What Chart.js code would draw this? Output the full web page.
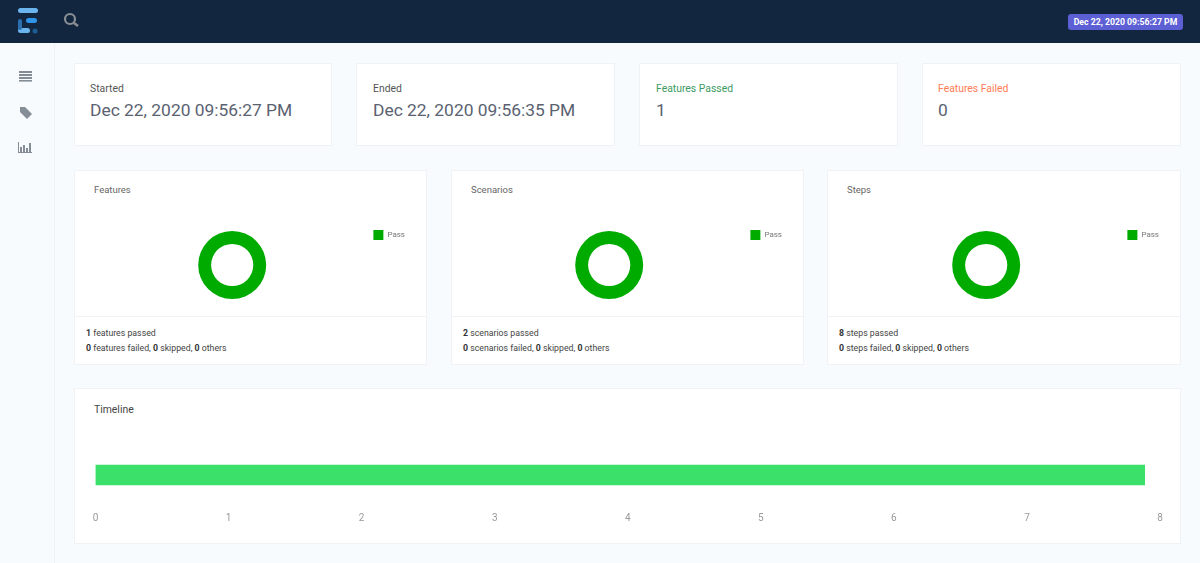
<!DOCTYPE html>
<html><head><meta charset="utf-8">
<script src="https://cdn.jsdelivr.net/npm/chart.js@4/dist/chart.umd.min.js"></script>
<style>
html,body{margin:0;padding:0;width:1200px;height:563px;overflow:hidden;background:#f8fbfd;font-family:Roboto,sans-serif;color:#4b5563}
.abs{position:absolute;box-sizing:border-box}
.card{position:absolute;box-sizing:border-box;background:#fff;border:1px solid #eff3f6}
.t{position:absolute;white-space:nowrap;line-height:1}
canvas{position:absolute}
b{font-weight:700;color:#333}
</style></head><body>
<div class="abs" style="left:0;top:0;width:1200px;height:43px;background:#12263f"></div>
<div class="abs" style="left:54px;top:43px;width:1px;height:520px;background:#eff3f6"></div>
<svg class="abs" style="left:0;top:0" width="1200" height="170" viewBox="0 0 1200 170">
 <rect x="18" y="8" width="20" height="5" rx="2.5" fill="#6cb4ee"/>
 <rect x="26" y="18" width="11" height="5" rx="2.5" fill="#2f93ea"/>
 <rect x="18" y="28" width="12" height="5" rx="2.5" fill="#6cb4ee"/>
 <rect x="18" y="19" width="4" height="11" rx="2" fill="#2b6fae"/>
 <circle cx="35" cy="31" r="2.5" fill="#1f5c94"/>
 <circle cx="70" cy="19" r="5" fill="none" stroke="#8a8f94" stroke-width="2.2"/>
 <line x1="74" y1="23" x2="78" y2="26" stroke="#8a8f94" stroke-width="2.5"/>
 <g fill="#858d96">
  <rect x="19" y="71" width="13" height="2"/><rect x="19" y="74" width="13" height="2"/><rect x="19" y="77" width="13" height="2"/><rect x="19" y="80" width="13" height="1.6"/>
  <path d="M20 107h5l7 7-5 5-7-7z"/>
  <rect x="18" y="142" width="1" height="11"/><rect x="18" y="152" width="14" height="1"/>
  <rect x="20" y="147" width="2" height="5"/><rect x="23" y="145" width="2" height="7"/><rect x="26" y="148" width="2" height="4"/><rect x="29" y="143" width="2" height="9"/>
 </g>
</svg>
<div class="abs" style="left:1068px;top:14px;width:115px;height:16px;background:#5d5fd4;border-radius:3px;color:#fff;font-size:8.7px;font-weight:700;line-height:16px;text-align:center;white-space:nowrap">Dec 22, 2020 09:56:27 PM</div>

<div class="card" style="left:74px;top:63px;width:258px;height:83px"></div>
<div class="t" style="left:90px;top:84px;font-size:10.4px;color:#555">Started</div>
<div class="t" style="left:90px;top:102px;font-size:17.4px;color:#5a6270">Dec 22, 2020 09:56:27 PM</div>
<div class="card" style="left:356px;top:63px;width:259px;height:83px"></div>
<div class="t" style="left:373px;top:84px;font-size:10.4px;color:#555">Ended</div>
<div class="t" style="left:373px;top:102px;font-size:17.4px;color:#5a6270">Dec 22, 2020 09:56:35 PM</div>
<div class="card" style="left:639px;top:63px;width:259px;height:83px"></div>
<div class="t" style="left:656px;top:84px;font-size:10.4px;color:#3d9a5f">Features Passed</div>
<div class="t" style="left:656px;top:102px;font-size:17.4px;color:#5a6270">1</div>
<div class="card" style="left:922px;top:63px;width:259px;height:83px"></div>
<div class="t" style="left:938px;top:84px;font-size:10.4px;color:#ff7b54">Features Failed</div>
<div class="t" style="left:938px;top:102px;font-size:17.4px;color:#5a6270">0</div>

<div id="panels"></div>

<div class="card" style="left:74px;top:388px;width:1107px;height:156px"></div>
<div class="t" style="left:94px;top:405px;font-size:10.4px;color:#444">Timeline</div>
<canvas id="timeline" style="left:74px;top:452px;width:1107px;height:78px"></canvas>

<script>
const passColor = '#00ab00';
const timelineColor = '#3ae06a';
const panelTitles = ['Features','Scenarios','Steps'];
const panelLegend = ['Pass'];
const panelPassed = [1,2,8];
const panelFailed = [0,0,0];
const panelSkipped = [0,0,0];
const panelOthers = [0,0,0];
const panelLeft = [74,451,827];
const timelineLabels = ['Feature'];
const timelineValues = [7.885];
const timelineMax = 8;

Chart.defaults.font.family = 'Roboto, sans-serif';
Chart.defaults.animation = false;
const host = document.getElementById('panels');
panelTitles.forEach((title,i)=>{
  const L = panelLeft[i], lc = title.toLowerCase();
  host.insertAdjacentHTML('beforeend',
   `<div class="card" style="left:${L}px;top:170px;width:${i==2?354:353}px;height:195px"></div>
    <div class="abs" style="left:${L+1}px;top:316px;width:${i==2?352:351}px;height:1px;background:#f0f2f5"></div>
    <div class="t" style="left:${L+20}px;top:185px;font-size:9.5px;color:#666">${title}</div>
    <div class="t" style="left:${L+12}px;top:329px;font-size:8.75px;color:#444"><b>${panelPassed[i]}</b> ${lc} passed</div>
    <div class="t" style="left:${L+12}px;top:344px;font-size:8.75px;color:#444"><b>${panelFailed[i]}</b> ${lc} failed, <b>${panelSkipped[i]}</b> skipped, <b>${panelOthers[i]}</b> others</div>
    <canvas id="d${i}" style="left:${L+27+(i==2?1:0)}px;top:220px;width:314px;height:90px"></canvas>`);
  const c = document.getElementById('d'+i);
  new Chart(c,{type:'doughnut',
    data:{labels:panelLegend,datasets:[{data:[panelPassed[i]],backgroundColor:passColor,borderWidth:0,radius:34}]},
    options:{responsive:false,cutout:'62%',devicePixelRatio:1,
      plugins:{tooltip:{enabled:false},
        legend:{position:'right',align:'start',labels:{boxWidth:10,boxHeight:10,padding:10,color:'#777',font:{size:8}}}}}
  });
});
new Chart(document.getElementById('timeline'),{type:'bar',
  data:{labels:timelineLabels,datasets:[{data:timelineValues,backgroundColor:timelineColor,barThickness:20}]},
  options:{indexAxis:'y',responsive:false,devicePixelRatio:1,
    layout:{padding:{left:21.5,right:21,top:0,bottom:0}},
    plugins:{legend:{display:false},tooltip:{enabled:false}},
    scales:{
      y:{display:false},
      x:{min:0,max:timelineMax,grid:{display:false,drawBorder:false},border:{display:false},
         ticks:{stepSize:1,color:'#999',font:{size:10},padding:6}}
    }}
});
</script>
</body></html>
